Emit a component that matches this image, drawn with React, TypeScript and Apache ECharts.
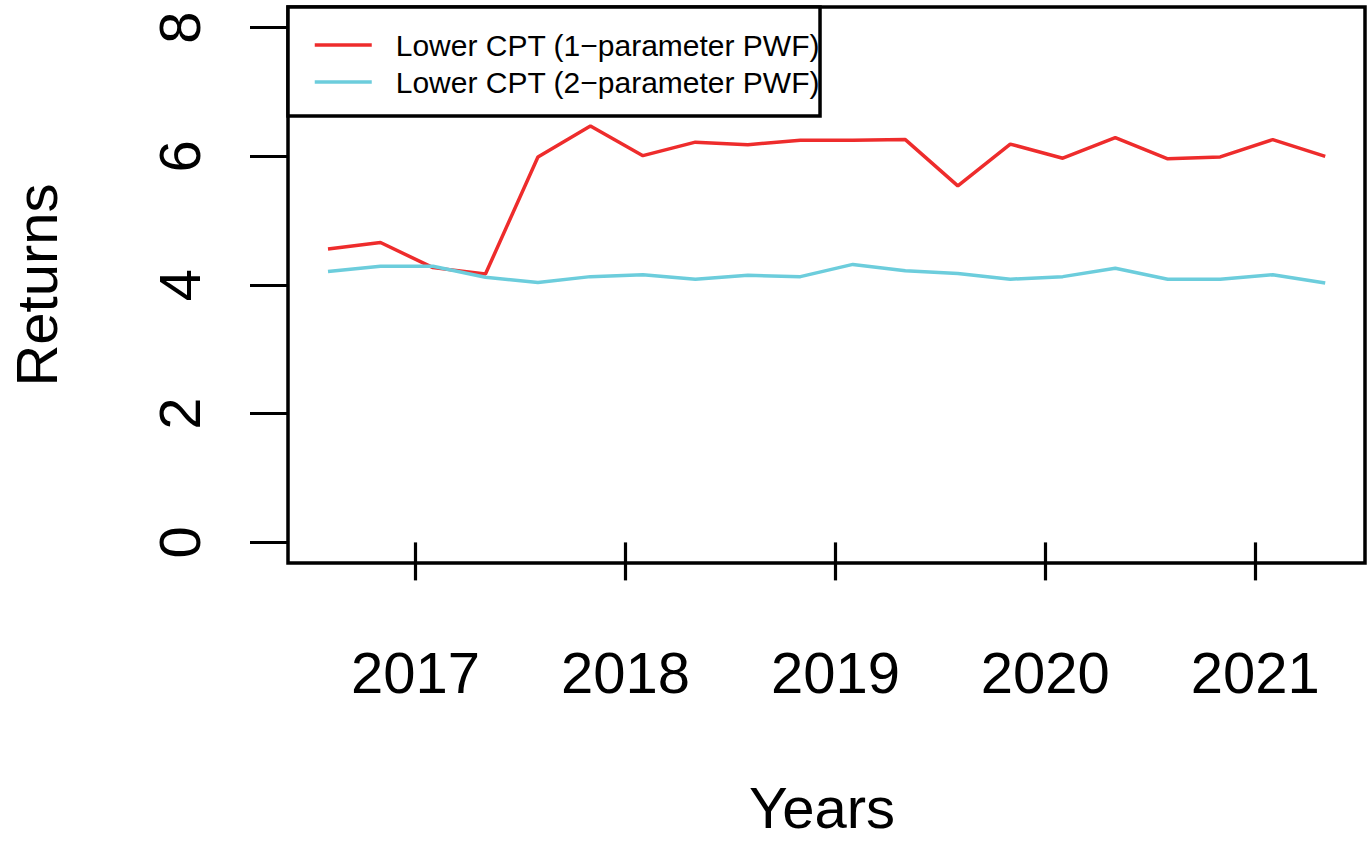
import React, { useEffect, useRef } from "react";
import * as echarts from "echarts";

const dates = [
  2016.583, 2016.833, 2017.083, 2017.333, 2017.583, 2017.833, 2018.083, 2018.333,
  2018.583, 2018.833, 2019.083, 2019.333, 2019.583, 2019.833, 2020.083, 2020.333,
  2020.583, 2020.833, 2021.083, 2021.333,
];
const onePwf = [
  4.56, 4.66, 4.27, 4.17, 5.99, 6.47, 6.01, 6.22, 6.18, 6.25,
  6.25, 6.26, 5.54, 6.19, 5.97, 6.29, 5.96, 5.99, 6.26, 6.0,
];
const twoPwf = [
  4.21, 4.29, 4.29, 4.12, 4.04, 4.13, 4.16, 4.09, 4.15, 4.13,
  4.32, 4.22, 4.18, 4.09, 4.13, 4.26, 4.09, 4.09, 4.16, 4.03,
];
const xTicks = [2017, 2018, 2019, 2020, 2021];
const yTicks = [0, 2, 4, 6, 8];
const seriesNames = ["Lower CPT (1\u2212parameter PWF)", "Lower CPT (2\u2212parameter PWF)"];
const colors = ["#EE2C2C", "#6CCDDC"];

const FONT = "'Liberation Sans', Arial, Helvetica, sans-serif";

export default function App() {
  const ref = useRef<HTMLDivElement>(null);
  useEffect(() => {
    if (!ref.current) return;
    const chart = echarts.init(ref.current, undefined, { renderer: "svg" });
    const axisCommon = {
      axisLine: { show: false },
      splitLine: { show: false },
      axisTick: { show: true, length: 38, lineStyle: { color: "#000", width: 3.2 } },
    };
    chart.setOption({
      animation: false,
      backgroundColor: "#fff",
      textStyle: { fontFamily: FONT },
      grid: {
        left: 288, top: 7, width: 1077, height: 556,
        show: true, borderColor: "#000", borderWidth: 3.5, backgroundColor: "transparent",
      },
      legend: {
        left: 288, top: 7, orient: "vertical",
        data: seriesNames,
        borderColor: "#000", borderWidth: 3.5, backgroundColor: "#fff",
        padding: [23, 0, 19, 25],
        itemWidth: 57, itemHeight: 30, itemGap: 7,
        selectedMode: false,
        itemStyle: { opacity: 0 },
        lineStyle: { width: 3.5 },
        textStyle: { fontSize: 30, color: "#000", fontFamily: FONT, padding: [0, 0, 0, 19], lineHeight: 30 },
      },
      xAxis: {
        type: "value", min: 2016.3925, max: 2021.5225,
        ...axisCommon,
        axisTick: { ...axisCommon.axisTick, customValues: xTicks },
        axisLabel: {
          customValues: xTicks, fontSize: 58, color: "#000", margin: 80, fontFamily: FONT,
          formatter: (v: number) => String(Math.round(v)),
        },
      },
      yAxis: {
        type: "value", min: -0.32, max: 8.32,
        ...axisCommon,
        axisTick: { ...axisCommon.axisTick, customValues: yTicks },
        axisLabel: {
          customValues: yTicks, fontSize: 58, color: "#000", margin: 80, rotate: 90, fontFamily: FONT,
          formatter: (v: number) => String(Math.round(v)),
        },
      },
      graphic: [
        { type: "text", x: 822, y: 807, style: { text: "Years", fontSize: 58, fill: "#000", fontFamily: FONT, align: "center", verticalAlign: "middle" } },
        { type: "text", x: 36, y: 285, rotation: Math.PI / 2, style: { text: "Returns", fontSize: 58, fill: "#000", fontFamily: FONT, align: "center", verticalAlign: "middle" } },
      ],
      series: [
        {
          name: seriesNames[0], type: "line", symbol: "none",
          data: dates.map((d, i) => [d, onePwf[i]]),
          lineStyle: { color: colors[0], width: 3.5 }, itemStyle: { color: colors[0] },
        },
        {
          name: seriesNames[1], type: "line", symbol: "none",
          data: dates.map((d, i) => [d, twoPwf[i]]),
          lineStyle: { color: colors[1], width: 3.5 }, itemStyle: { color: colors[1] },
        },
      ],
    });
    return () => chart.dispose();
  }, []);
  return (
    <div
      ref={ref}
      style={{ position: "fixed", left: 0, top: 0, width: 1368, height: 842 }}
    />
  );
}
